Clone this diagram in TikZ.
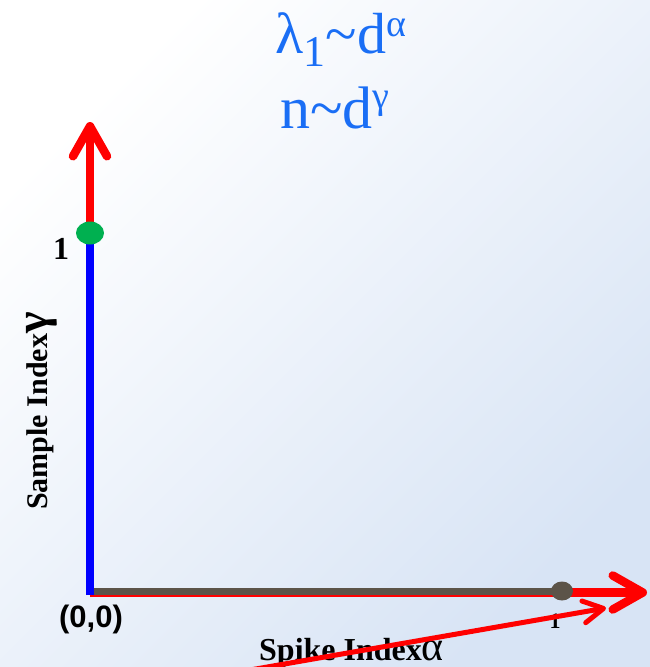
\documentclass[tikz,border=0pt]{standalone}
\usepackage{fontspec}
\setmainfont{Liberation Serif}
\newfontfamily\sansfnt{Liberation Sans}
\usetikzlibrary{arrows.meta,shapes.geometric}
\definecolor{TitleBlue}{HTML}{1A6EF5}
\definecolor{AxisBlue}{HTML}{0000FF}
\definecolor{AxisRed}{HTML}{FF0000}
\definecolor{DotGreen}{HTML}{00B050}
\definecolor{AxisGrey}{HTML}{5C5449}
\definecolor{BgBlue}{HTML}{D8E4F5}
\newcommand{\fsz}[1]{\fontsize{#1}{#1}\selectfont}
\tikzset{
  redaxis/.style={AxisRed,line width=8.5pt,-{Straight Barb[length=30pt,width=34pt,round]}},
  redpointer/.style={AxisRed,line width=5pt,-{Straight Barb[length=20pt,width=22pt,round]}},
  bluepart/.style={AxisBlue,line width=8pt},
  greypart/.style={AxisGrey,line width=7pt},
  enddot/.style={ellipse,inner sep=0pt,minimum width=#1},
  lbl/.style={inner sep=0pt,text=black}
}

\begin{document}
\begin{tikzpicture}[x=1pt,y=-1pt]
\useasboundingbox (0,0) rectangle (650,667);
\clip (0,0) rectangle (650,667);
\shade[top color=white,bottom color=BgBlue,shading angle=45] (0,0) rectangle (650,667);
% title
\node[lbl,text=TitleBlue,anchor=base] (rel1) at (341,53)
  {\fsz{58}λ\raisebox{-13pt}{\fsz{44}1}\textasciitilde d\raisebox{17pt}{\fsz{38}α}};
\node[lbl,text=TitleBlue,anchor=base] (rel2) at (335,128)
  {\fsz{60}n\textasciitilde d\raisebox{20pt}{\fsz{38}γ}};
% axes
\coordinate (O) at (90,591);
\coordinate (Ored) at (90,592.5);
\coordinate (Oblue) at (90,595);
\coordinate (ytip) at (90,122);
\coordinate (xtip) at (647,592.5);
\draw[redaxis] (O) -- (ytip);
\draw[redaxis] (Ored) -- (xtip);
\node[enddot=22pt,minimum height=19pt,fill=AxisGrey] (xone) at (562,591) {};
\draw[greypart] (O) -- (xone.center);
\draw[bluepart] (Oblue) -- (90,240) coordinate (bluetop);
\node[enddot=28pt,minimum height=23pt,fill=DotGreen] (yone) at (90,233) {};
% labels
\node[lbl,font=\bfseries\fsz{32}] (ylab1) at (61,249) {1};
\node[lbl,font=\bfseries\fsz{22}] (xlab1) at (555,621) {1};
\node[lbl,font=\sansfnt\bfseries\fsz{31}] (origin) at (91,619) {(0,0)};
\node[lbl,rotate=90,anchor=base west] (ytitle) at (47,510)
  {\fsz{30}\bfseries Sample Index\fsz{46}γ};
\node[lbl,anchor=base west] (xtitle) at (259,660)
  {\fsz{32}\bfseries Spike Index\fsz{42}\mdseries α};
% pointer
\coordinate (pstart) at (250,670);
\coordinate (ptip) at (606,608);
\draw[redpointer] (pstart) -- (ptip);
\end{tikzpicture}
\end{document}
